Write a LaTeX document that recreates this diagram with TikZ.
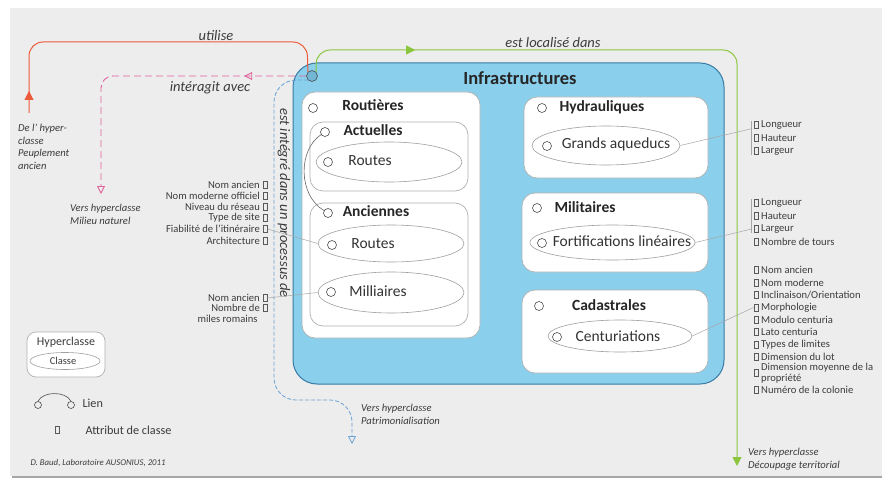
\documentclass[tikz,border=0pt]{standalone}
\usepackage{fontspec}
\setmainfont{Carlito}
\usepackage{tikz}
\usetikzlibrary{arrows.meta,shapes.geometric,decorations.markings}
\definecolor{fond}{HTML}{EDEDED}
\definecolor{ciel}{HTML}{8ACFEB}
\definecolor{bordbleu}{HTML}{3A7CA5}
\definecolor{rouge}{HTML}{EC5B3A}
\definecolor{vert}{HTML}{8CC63F}
\definecolor{rose}{HTML}{E0629C}
\definecolor{bleupt}{HTML}{6AA3D5}
\definecolor{texte}{HTML}{3C3C3C}

\begin{document}
\begin{tikzpicture}[x=1pt,y=-1pt,
  boite/.style={draw=gray!60, fill=white, rounded corners=13pt, line width=0.7pt},
  classe/.style={ellipse, draw=gray!75, line width=0.6pt, inner sep=0pt},
  rond/.style={circle, draw=black!70, line width=0.6pt, inner sep=0pt, minimum size=9pt},
  carre/.style={draw=black!65, line width=0.5pt, inner sep=0pt, minimum width=4.5pt, minimum height=7pt},
  attr/.style={font=\fontsize{10.6}{11}\selectfont, text=texte, inner sep=2.5pt},
  titre/.style={font=\bfseries\fontsize{15.5}{17}\selectfont, text=black!85},
  cl/.style={font=\fontsize{15.5}{17}\selectfont, text=black!80},
  rel/.style={font=\itshape\fontsize{14.5}{16}\selectfont, text=texte},
  note/.style={font=\itshape\fontsize{10.6}{12.5}\selectfont, text=texte, align=left, inner sep=0pt},
  lg/.style={font=\fontsize{12.2}{14}\selectfont, text=texte},
  fin/.style={draw=gray!70, line width=0.5pt},
  mi/.style={postaction={decorate}, decoration={markings, mark=at position #1 with {\arrow{Triangle[length=9pt,width=9pt]}}}},
  miopen/.style={postaction={decorate}, decoration={markings, mark=at position #1 with {\arrow{Triangle[open,length=8pt,width=8pt]}}}}]
\useasboundingbox (0,0) rectangle (882,481);
% fond
\fill[white] (0,0) rectangle (882,481);
\fill[black!35] (12,12) rectangle (882,478);
\fill[fond] (10,8) rectangle (882,476);

% hyperclasse principale
\node[draw=bordbleu, fill=ciel, line width=1pt, rounded corners=24pt, minimum width=431pt, minimum height=321pt] (infra) at (508.5,223.5) {};
\node[font=\bfseries\fontsize{18.5}{20}\selectfont, text=black!85] (t0) at (520,78) {Infrastructures};

% routieres
\node[boite, minimum width=178pt, minimum height=246pt] (b1) at (391,215) {};
\node[boite, minimum width=158pt, minimum height=69pt] (b2) at (389,156.5) {};
\node[boite, minimum width=158pt, minimum height=123pt] (b3) at (389,264.5) {};
\node[classe, minimum width=146pt, minimum height=40pt] (e1) at (389,162) {};
\node[classe, minimum width=146pt, minimum height=37pt] (e2) at (391,243.5) {};
\node[classe, minimum width=146pt, minimum height=41pt] (e3) at (391,292.5) {};
\node[titre] at (373,105) {Routières};
\node[rond] (c1) at (313,108) {};
\node[titre] at (373,130) {Actuelles};
\node[rond] (c2) at (325,132) {};
\node[cl] at (370,161) {Routes};
\node[rond] (c3) at (328,162) {};
\node[titre] at (376,211) {Anciennes};
\node[rond] (c4) at (328,213) {};
\node[cl] at (373,244) {Routes};
\node[rond] (c5) at (332,245) {};
\node[cl] at (378,291) {Milliaires};
\node[rond] (c6) at (331,292) {};
\draw[draw=black!60, line width=0.6pt] (c2) .. controls (298,150) and (298,195) .. (c4);

% hydrauliques, militaires, cadastrales
\node[boite, minimum width=184pt, minimum height=81pt] (b4) at (616,137.5) {};
\node[classe, minimum width=148pt, minimum height=39pt] (e4) at (606,145.5) {};
\node[titre] at (602,107) {Hydrauliques};
\node[rond] (c7) at (542,108) {};
\node[cl] at (616,144) {Grands aqueducs};
\node[rond] (c8) at (547,146) {};
\node[boite, minimum width=186pt, minimum height=79pt] (b5) at (615,232.5) {};
\node[classe, minimum width=165pt, minimum height=35pt] (e5) at (612.5,242.5) {};
\node[titre] at (585,207) {Militaires};
\node[rond] (c9) at (537,208) {};
\node[cl] at (622,241) {Fortifications linéaires};
\node[rond] (c10) at (542,243) {};
\node[boite, minimum width=186pt, minimum height=83pt] (b6) at (615,331.5) {};
\node[classe, minimum width=144pt, minimum height=32pt] (e6) at (620,336) {};
\node[titre] at (609,305) {Cadastrales};
\node[rond] (c11) at (539,306) {};
\node[cl] at (618,336) {Centuriations};
\node[rond] (c12) at (557,337) {};

% liens vers les autres hyperclasses
\coordinate (r1) at (29,113);
\coordinate (p1) at (101,194);
\coordinate (g1) at (737,466);
\coordinate (q1) at (352,444);
\node[rond, fill=ciel!70!bordbleu, minimum size=11pt] (c0) at (312,76) {};
\draw[color=rouge, line width=1pt, rounded corners=14pt, mi=22pt] (r1) |- (307,42) -- (c0.north west);
\draw[color=vert, line width=1pt, rounded corners=14pt, mi=115pt, -{Triangle[length=9pt,width=9pt]}] (c0.north east) |- (737,50) -- (g1);
\draw[color=rose, line width=0.9pt, dash pattern=on 7pt off 4pt, rounded corners=12pt, miopen=62pt, -{Triangle[open,length=8pt,width=8pt]}] (c0.west) -| (p1);
\draw[color=bleupt, line width=0.8pt, dash pattern=on 4pt off 2pt, rounded corners=22pt, -{Triangle[open,length=8pt,width=8pt]}] (c0.south west) -| (274,400) -| (q1);
\node[rel] (t1) at (216,36) {utilise};
\node[rel] (t2) at (210,88) {intéragit avec};
\node[rel] (t3) at (553,43) {est localisé dans};
\node[rel, rotate=-90] (t4) at (284,203) {est intégré dans un processus de};
\node[note, anchor=north west] (n1) at (18,124) {De l' hyper-\\classe\\Peuplement\\ancien};
\node[note, anchor=north west] (n2) at (70,204) {Vers hyperclasse\\Milieu naturel};
\node[note, anchor=north west] (n3) at (361,404) {Vers hyperclasse\\Patrimonialisation};
\node[note, anchor=north west] (n4) at (748,448) {Vers hyperclasse\\Découpage territorial};

% attributs des routes
\node[carre, label={[attr]left:Nom ancien}] (a1) at (265,185) {};
\node[carre, label={[attr]left:Nom moderne officiel}] (a2) at (265,195.5) {};
\node[carre, label={[attr]left:Niveau du réseau}] (a3) at (265,206.5) {};
\node[carre, label={[attr]left:Type de site}] (a4) at (265,218) {};
\node[carre, label={[attr]left:Fiabilité de l’itinéraire}] (a5) at (265,229) {};
\node[carre, label={[attr]left:Architecture}] (a6) at (265,240.5) {};
\node[carre, label={[attr]left:Nom ancien}] (a7) at (265,298) {};
\node[carre, label={[attr]left:Nombre de}] (a8) at (265,308) {};
\node[attr, anchor=east] (a9) at (260.2,318.5) {miles romains};
\draw[fin] (a5.east) -- (e2.west);
\draw[fin] (a7.east) -- (e3.west);

% attributs hydrauliques
\node[carre, label={[attr]right:Longueur}] (h1) at (756,125) {};
\node[carre, label={[attr]right:Hauteur}] (h2) at (756,138) {};
\node[carre, label={[attr]right:Largeur}] (h3) at (756,151) {};
\draw[fin] ([xshift=-2pt]h1.north west) -- ([xshift=-2pt]h3.south west);
\draw[fin] (e4.east) -- ([xshift=-2pt]h1.south west);
% attributs militaires
\node[carre, label={[attr]right:Longueur}] (m1) at (756,203) {};
\node[carre, label={[attr]right:Hauteur}] (m2) at (756,216) {};
\node[carre, label={[attr]right:Largeur}] (m3) at (756,229) {};
\node[carre, label={[attr]right:Nombre de tours}] (m4) at (756,242) {};
\draw[fin] ([xshift=-2pt]m1.north west) -- ([xshift=-2pt]m3.south west);
\draw[fin] (e5.east) -- ([xshift=-2pt]m3.west);
% attributs cadastraux
\node[carre, label={[attr]right:Nom ancien}] (d1) at (756,270) {};
\node[carre, label={[attr]right:Nom moderne}] (d2) at (756,282.5) {};
\node[carre, label={[attr]right:Inclinaison/Orientation}] (d3) at (756,295) {};
\node[carre, label={[attr]right:Morphologie}] (d4) at (756,307.5) {};
\node[carre, label={[attr]right:Modulo centuria}] (d5) at (756,320) {};
\node[carre, label={[attr]right:Lato centuria}] (d6) at (756,332) {};
\node[carre, label={[attr]right:Types de limites}] (d7) at (756,344.5) {};
\node[carre, label={[attr]right:Dimension du lot}] (d8) at (756,356.5) {};
\node[carre, label={[attr, align=left, font=\fontsize{10.6}{10.5}\selectfont]right:Dimension moyenne de la\\propriété}] (d9) at (756,373) {};
\node[carre, label={[attr]right:Numéro de la colonie}] (d10) at (756,390) {};
\draw[fin] (e6.east) -- (d4.west);

% legende
\node[boite, rounded corners=9pt, minimum width=78pt, minimum height=45pt] (k1) at (66,354.5) {};
\node[classe, minimum width=70pt, minimum height=17pt] (k2) at (65,361) {};
\node[font=\fontsize{12}{13}\selectfont, text=texte] at (66,342) {Hyperclasse};
\node[font=\fontsize{10.5}{12}\selectfont, text=texte] at (63,361) {Classe};
\node[rond, minimum size=7pt] (l1) at (38,405) {};
\node[rond, minimum size=7pt] (l2) at (71,405) {};
\draw[draw=black!70, line width=0.6pt] (l1.north) .. controls (43,391) and (66,391) .. (l2.north);
\node[lg, anchor=west] (l3) at (79,403) {Lien};
\node[carre] (l4) at (57,430) {};
\node[lg, anchor=west] (l5) at (82,430) {Attribut de classe};
\node[font=\itshape\fontsize{8.8}{10}\selectfont, text=texte, anchor=west] (l6) at (27,463) {D. Baud, Laboratoire AUSONIUS, 2011};
\end{tikzpicture}
\end{document}
